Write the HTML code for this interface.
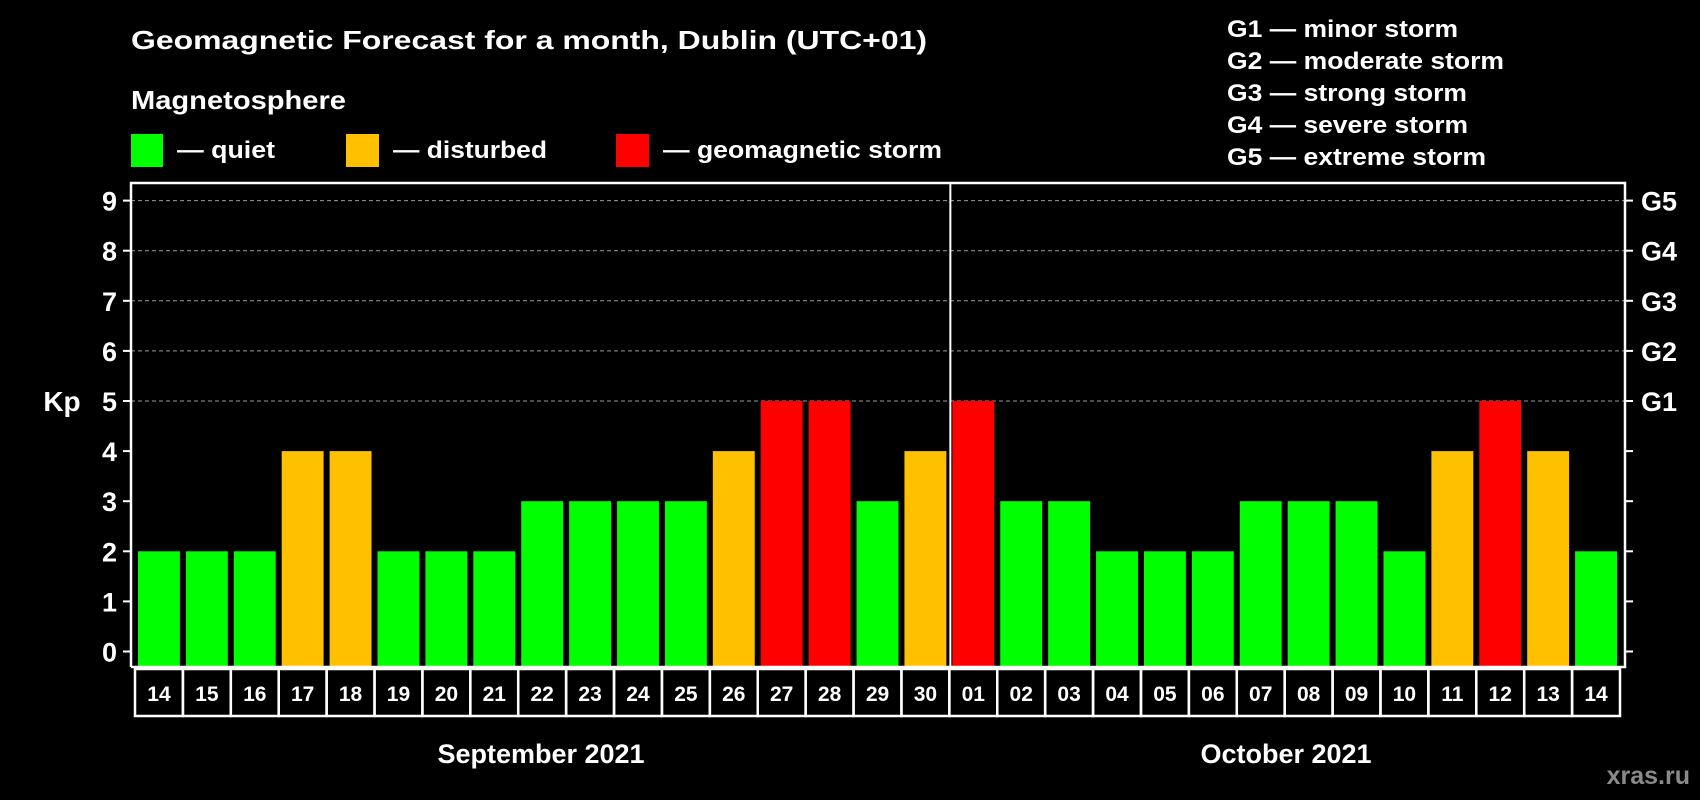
<!DOCTYPE html>
<html><head><meta charset="utf-8"><style>
html,body{margin:0;padding:0;background:#000;}
svg{display:block;font-family:"Liberation Sans",Arial,sans-serif;font-weight:bold;}
</style></head><body>
<svg id="chart" width="1700" height="800" viewBox="0 0 1700 800" xmlns="http://www.w3.org/2000/svg">
<rect width="1700" height="800" fill="#000"/>
<text x="131" y="49" fill="#fff" font-size="26" textLength="796" lengthAdjust="spacingAndGlyphs">Geomagnetic Forecast for a month, Dublin (UTC+01)</text>
<text x="131" y="109" fill="#fff" font-size="26" textLength="215" lengthAdjust="spacingAndGlyphs">Magnetosphere</text>
<g>
<rect x="131" y="134" width="32" height="33" fill="#00ff00"/>
<text x="177" y="158" fill="#fff" font-size="24" textLength="98" lengthAdjust="spacingAndGlyphs">— quiet</text>
</g>
<g>
<rect x="346" y="134" width="33" height="33" fill="#ffc000"/>
<text x="393" y="158" fill="#fff" font-size="24" textLength="154" lengthAdjust="spacingAndGlyphs">— disturbed</text>
</g>
<g>
<rect x="616" y="134" width="33" height="33" fill="#ff0000"/>
<text x="663" y="158" fill="#fff" font-size="24" textLength="279" lengthAdjust="spacingAndGlyphs">— geomagnetic storm</text>
</g>
<g>
<text x="1227" y="37" fill="#fff" font-size="24" textLength="231" lengthAdjust="spacingAndGlyphs">G1 — minor storm</text>
<text x="1227" y="69" fill="#fff" font-size="24" textLength="277" lengthAdjust="spacingAndGlyphs">G2 — moderate storm</text>
<text x="1227" y="101" fill="#fff" font-size="24" textLength="240" lengthAdjust="spacingAndGlyphs">G3 — strong storm</text>
<text x="1227" y="133" fill="#fff" font-size="24" textLength="241" lengthAdjust="spacingAndGlyphs">G4 — severe storm</text>
<text x="1227" y="165" fill="#fff" font-size="24" textLength="259" lengthAdjust="spacingAndGlyphs">G5 — extreme storm</text>
</g>
<text x="62" y="411" fill="#fff" font-size="28" text-anchor="middle">Kp</text>
<g id="grid"></g>
<g id="bars"></g>
<g id="axes"></g>
<text x="541" y="763" fill="#fff" font-size="27" text-anchor="middle">September 2021</text>
<text x="1286" y="763" fill="#fff" font-size="27" text-anchor="middle">October 2021</text>
<text x="1690" y="784" fill="#8a8a8a" font-size="25" text-anchor="end">xras.ru</text>
</svg>
<script>
const days = ["14","15","16","17","18","19","20","21","22","23","24","25","26","27","28","29","30","01","02","03","04","05","06","07","08","09","10","11","12","13","14"];
const kpValues = [2,2,2,4,4,2,2,2,3,3,3,3,4,5,5,3,4,5,3,3,2,2,2,3,3,3,2,4,5,4,2];
const yTicks = [0,1,2,3,4,5,6,7,8,9];
const stormLabels = ["G1","G2","G3","G4","G5"];
const stormLevels = [5,6,7,8,9];
const monthSplitIndex = 17;

const NS = "http://www.w3.org/2000/svg";
const L = 131, R = 1625, T = 183, B = 667;
const X0 = 135, slot = (1620 - 135) / days.length;
const y = v => 651.5 - v * 50.1;
const x = i => X0 + i * slot;
function mk(tag, attrs, parent){ const e = document.createElementNS(NS, tag); for (const k in attrs) e.setAttribute(k, attrs[k]); parent.appendChild(e); return e; }
const grid = document.getElementById("grid"), bars = document.getElementById("bars"), axes = document.getElementById("axes");
function color(v){ return v >= 5 ? "#ff0000" : (v >= 4 ? "#ffc000" : "#00ff00"); }

stormLevels.forEach((lv, i) => {
  const g = mk("line", {x1:L, x2:R, y1:y(lv), y2:y(lv), stroke:"#9a9a9a", "stroke-width":1, "stroke-dasharray":"4,3"}, grid);
  
  
  const t = mk("text", {x:1641, y:y(lv)+10, fill:"#fff", "font-size":27}, axes);
  t.textContent = stormLabels[i];
  
  
});

kpValues.forEach((v, i) => {
  const r = mk("rect", {x:x(i)+3, y:y(v), width:slot-6, height:B - y(v), fill:color(v)}, bars);
  
  
  const bx = mk("rect", {x:x(i), y:669, width:slot, height:47, fill:"none", stroke:"#fff", "stroke-width":2.5}, axes);
  
  
  const t = mk("text", {x:x(i)+slot/2, y:701, fill:"#fff", "font-size":21, "text-anchor":"middle"}, axes);
  t.textContent = days[i];
  
  
});

yTicks.forEach(v => {
  const t = mk("text", {x:117, y:y(v)+10, fill:"#fff", "font-size":27, "text-anchor":"end"}, axes);
  t.textContent = v;
  
  
  const tl = mk("line", {x1:123, x2:L, y1:y(v), y2:y(v), stroke:"#fff", "stroke-width":2}, axes);
  
  
  const tr = mk("line", {x1:R, x2:1633, y1:y(v), y2:y(v), stroke:"#fff", "stroke-width":2}, axes);
  
  
});

const frame = mk("path", {d:`M${L},${B} L${L},${T} L${R},${T} L${R},${B} L${L},${B}`, fill:"none", stroke:"#fff", "stroke-width":2.5}, axes);


const dv = mk("line", {x1:x(monthSplitIndex)+1, x2:x(monthSplitIndex)+1, y1:T, y2:B, stroke:"#fff", "stroke-width":2}, axes);


</script>
</body></html>
